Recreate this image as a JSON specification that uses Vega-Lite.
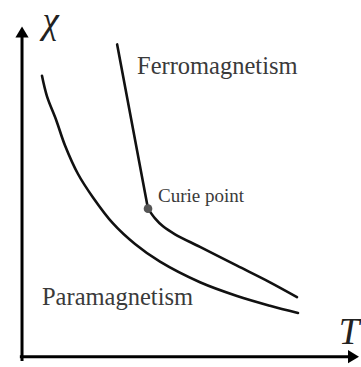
{
  "$schema": "https://vega.github.io/schema/vega-lite/v6.json",
  "autosize": {"type": "fit", "contains": "padding"},
  "width": 361,
  "height": 367,
  "padding": 0,
  "background": "white",
  "config": {"view": {"stroke": null}},
  "datasets": {
    "axes": [
      {"axis": "chi", "T": 0.01, "chi": -0.1},
      {"axis": "chi", "T": 0.01, "chi": 8.9},
      {"axis": "T", "T": -0.05, "chi": 0.02},
      {"axis": "T", "T": 9.1, "chi": 0.02}
    ],
    "heads": [
      {"axis": "chi", "T": 0.01, "chi": 8.86},
      {"axis": "T", "T": 9.04, "chi": 0.02}
    ],
    "curves": [
      {"series": "para", "T": 0.563, "chi": 7.80},
      {"series": "para", "T": 0.702, "chi": 7.23},
      {"series": "para", "T": 0.958, "chi": 6.57},
      {"series": "para", "T": 1.201, "chi": 5.87},
      {"series": "para", "T": 1.561, "chi": 5.08},
      {"series": "para", "T": 1.976, "chi": 4.43},
      {"series": "para", "T": 2.530, "chi": 3.71},
      {"series": "para", "T": 3.140, "chi": 3.14},
      {"series": "para", "T": 3.832, "chi": 2.65},
      {"series": "para", "T": 4.940, "chi": 2.08},
      {"series": "para", "T": 5.965, "chi": 1.70},
      {"series": "para", "T": 6.879, "chi": 1.43},
      {"series": "para", "T": 7.655, "chi": 1.23},
      {"series": "ferro", "T": 3.500, "chi": 4.12},
      {"series": "ferro", "T": 3.694, "chi": 3.85},
      {"series": "ferro", "T": 3.915, "chi": 3.63},
      {"series": "ferro", "T": 4.248, "chi": 3.41},
      {"series": "ferro", "T": 4.940, "chi": 3.06},
      {"series": "ferro", "T": 5.965, "chi": 2.54},
      {"series": "ferro", "T": 6.879, "chi": 2.08},
      {"series": "ferro", "T": 7.627, "chi": 1.67}
    ],
    "steep": [
      {"T": 2.645, "chi": 8.67},
      {"T": 3.500, "chi": 4.12}
    ],
    "curie": [
      {"T": 3.500, "chi": 4.12}
    ],
    "labels": [
      {"text": "Ferromagnetism", "kind": "phase", "T": 3.195, "chi": 7.86},
      {"text": "Paramagnetism", "kind": "phase", "T": 0.563, "chi": 1.45},
      {"text": "Curie point", "kind": "note", "T": 3.777, "chi": 4.31}
    ],
    "symbols": [
      {"text": "χ", "T": 0.80, "chi": 8.98},
      {"text": "T", "T": 9.07, "chi": 0.37}
    ]
  },
  "encoding": {
    "x": {"field": "T", "type": "quantitative", "axis": null,
          "scale": {"domain": [-0.6, 9.4], "nice": false, "zero": false}},
    "y": {"field": "chi", "type": "quantitative", "axis": null,
          "scale": {"domain": [-0.1, 9.9], "nice": false, "zero": false}}
  },
  "layer": [
    {
      "data": {"name": "axes"},
      "mark": {"type": "line", "color": "#000000", "strokeWidth": 3, "strokeCap": "butt"},
      "encoding": {"detail": {"field": "axis"}}
    },
    {
      "data": {"name": "heads"},
      "transform": [{"filter": "datum.axis === 'chi'"}],
      "mark": {"type": "point", "filled": true, "color": "#000000", "opacity": 1,
               "shape": "M0,-1L0.6,0L-0.6,0Z", "size": 484}
    },
    {
      "data": {"name": "heads"},
      "transform": [{"filter": "datum.axis === 'T'"}],
      "mark": {"type": "point", "filled": true, "color": "#000000", "opacity": 1,
               "shape": "M1,0L0,-0.6L0,0.6Z", "size": 484}
    },
    {
      "data": {"name": "steep"},
      "mark": {"type": "line", "color": "#111111", "strokeWidth": 2.6, "strokeCap": "round"},
      "encoding": {}
    },
    {
      "data": {"name": "curves"},
      "mark": {"type": "line", "color": "#111111", "strokeWidth": 2.6, "strokeCap": "round",
               "interpolate": "catmull-rom"},
      "encoding": {"detail": {"field": "series"}}
    },
    {
      "data": {"name": "curie"},
      "mark": {"type": "point", "filled": true, "color": "#555555", "opacity": 1, "size": 75}
    },
    {
      "data": {"name": "labels"},
      "transform": [{"filter": "datum.kind === 'phase'"}],
      "mark": {"type": "text", "font": "Liberation Serif, DejaVu Serif, serif", "fontSize": 24.5,
               "color": "#3a3a3a", "align": "left", "baseline": "alphabetic"},
      "encoding": {"text": {"field": "text"}}
    },
    {
      "data": {"name": "labels"},
      "transform": [{"filter": "datum.kind === 'note'"}],
      "mark": {"type": "text", "font": "Liberation Serif, DejaVu Serif, serif", "fontSize": 19,
               "color": "#3a3a3a", "align": "left", "baseline": "alphabetic"},
      "encoding": {"text": {"field": "text"}}
    },
    {
      "data": {"name": "symbols"},
      "mark": {"type": "text", "font": "Liberation Serif, DejaVu Serif, serif", "fontStyle": "italic",
               "fontSize": 37, "color": "#222222", "align": "center", "baseline": "alphabetic"},
      "encoding": {"text": {"field": "text"}}
    }
  ]
}
